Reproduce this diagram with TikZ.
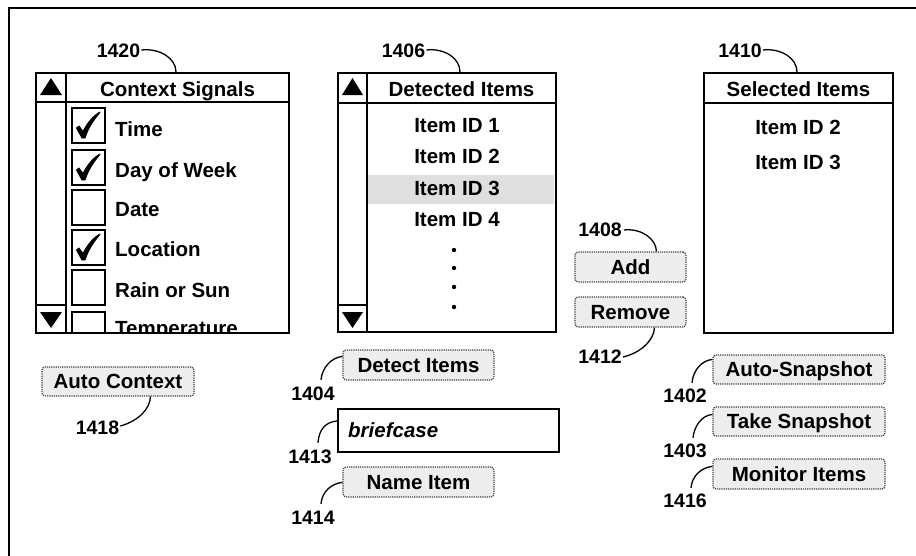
\documentclass[tikz,border=0pt]{standalone}
\usepackage{fontspec}
\setmainfont{Liberation Sans}
\usetikzlibrary{calc}
\tikzset{
  txt/.style={font=\fontsize{20.5}{24}\selectfont\bfseries, inner sep=0pt, text height=14.7pt, text depth=0pt},
  lbl/.style={font=\fontsize{19.5}{22}\selectfont\bfseries, inner sep=0pt, text height=14pt, text depth=0pt},
  listbox/.style={draw, line width=2pt, inner sep=0pt},
  boxline/.style={line width=2pt},
  btn/.style={draw=black!75, densely dotted, line width=1.2pt, rounded corners=3pt, fill=gray!14, inner sep=0pt,
    font=\fontsize{20.5}{24}\selectfont\bfseries, text height=14.7pt, text depth=0pt},
  chkbox/.style={draw, line width=1.8pt, minimum width=33pt, minimum height=35pt, inner sep=0pt},
  chkmark/.pic={
    \filldraw[black, line width=0.9pt, line join=round] (-12,2.5) -- (-9.5,0.5) -- (-5.5,6)
      .. controls (-1,-3) and (5,-10) .. (11.5,-13.5)
      .. controls (10,-10.5) and (1,-2) .. (-3.5,12.5)
      -- (-6.5,12.5) -- cycle;
  },
  lead/.style={line width=1.3pt},
  tri/.style={fill=black},
  hilite/.style={fill=gray!25, draw=none}
}
\begin{document}
\begin{tikzpicture}[x=1pt,y=-1pt]
\clip (0,0) rectangle (916,555);
\fill[white] (0,0) rectangle (916,555);
% outer frame (only top and left edges visible)
\draw[line width=2.6pt] (940,8) -- (9,8) -- (9,575);

% ---------- Context Signals list ----------
\begin{scope}
  \clip (67,103) rectangle (288,332);
  \node[chkbox] (cb1) at (88.5,125.5) {};
  \node[chkbox] (cb2) at (88.5,167.5) {};
  \node[chkbox] (cb3) at (88.5,207.5) {};
  \node[chkbox] (cb4) at (88.5,247.5) {};
  \node[chkbox] (cb5) at (88.5,287.5) {};
  \node[chkbox] (cb6) at (88.5,329.5) {};
  \pic at (cb1) {chkmark};
  \pic at (cb2) {chkmark};
  \pic at (cb4) {chkmark};
  \node[txt, anchor=south west] (s1) at (115,137) {Time};
  \node[txt, anchor=south west] (s2) at (115,177.5) {Day of Week};
  \node[txt, anchor=south west] (s3) at (115,217) {Date};
  \node[txt, anchor=south west] (s4) at (115,257) {Location};
  \node[txt, anchor=south west] (s5) at (115,297.5) {Rain or Sun};
  \node[txt, anchor=south west] (s6) at (115,336) {Temperature};
\end{scope}
\node[listbox, minimum width=253pt, minimum height=260pt] (cs) at (162.5,203) {};
\draw[boxline] (36,102) -- (289,102);
\draw[boxline] (66,73) -- (66,333);
\draw[boxline] (36,305) -- (66,305);
\fill[tri] (51,78) -- (62,95) -- (40,95) -- cycle;
\fill[tri] (40,312) -- (62,312) -- (51,328) -- cycle;
\node[txt] (csh) at (177.5,89.5) {Context Signals};

% ---------- Detected Items list ----------
\fill[hilite] (368,175) rectangle (554,204);
\node[listbox, minimum width=218pt, minimum height=259pt] (di) at (447,202.5) {};
\draw[boxline] (338,103) -- (556,103);
\draw[boxline] (367,73) -- (367,332);
\draw[boxline] (338,305) -- (367,305);
\fill[tri] (352.5,78) -- (363,95) -- (342,95) -- cycle;
\fill[tri] (342,312) -- (363,312) -- (352.5,328) -- cycle;
\node[txt] (dih) at (461.5,89.5) {Detected Items};
\node[txt] (d1) at (457,125.5) {Item ID 1};
\node[txt] (d2) at (457,156.5) {Item ID 2};
\node[txt] (d3) at (457,188.5) {Item ID 3};
\node[txt] (d4) at (457,219.5) {Item ID 4};
\foreach \yy/\nm in {250/p1,268/p2,287/p3,307/p4}{
  \fill (454,\yy) circle (2.2pt) coordinate (\nm);
}

% ---------- Selected Items list ----------
\node[listbox, minimum width=189pt, minimum height=260pt] (si) at (798.5,203) {};
\draw[boxline] (704,103) -- (893,103);
\node[txt] (sih) at (798.5,89.5) {Selected Items};
\node[txt] (e2) at (798,127.5) {Item ID 2};
\node[txt] (e3) at (798,162.5) {Item ID 3};

% ---------- Buttons ----------
\node[btn, minimum width=111pt, minimum height=30pt] (add) at (630.5,267) {Add};
\node[btn, minimum width=111pt, minimum height=30pt] (rem) at (630.5,312) {Remove};
\node[btn, minimum width=152pt, minimum height=29pt] (ac) at (118,381.5) {Auto Context};
\node[btn, minimum width=151pt, minimum height=30pt] (det) at (418.5,365) {Detect Items};
\node[btn, minimum width=151pt, minimum height=30pt] (nam) at (418.5,482) {Name Item};
\node[btn, minimum width=172pt, minimum height=29pt] (asnap) at (799,369.5) {Auto-Snapshot};
\node[btn, minimum width=172pt, minimum height=29pt] (tsnap) at (799,421.5) {Take Snapshot};
\node[btn, minimum width=172pt, minimum height=30pt] (mon) at (799,474) {Monitor Items};
\node[draw, line width=2pt, minimum width=221pt, minimum height=43pt, inner sep=0pt] (fld) at (448.5,430.5) {};
\node[txt, anchor=west, font=\fontsize{20.5}{24}\selectfont\bfseries\itshape] (fldt) at (348,430.5) {briefcase};

% ---------- Reference labels ----------
\node[lbl] (l1420) at (118.5,50) {1420};
\node[lbl] (l1406) at (403.5,50) {1406};
\node[lbl] (l1410) at (740,50) {1410};
\node[lbl] (l1408) at (600,229) {1408};
\node[lbl] (l1412) at (600,356) {1412};
\node[lbl] (l1418) at (97.5,427) {1418};
\node[lbl] (l1404) at (313,393) {1404};
\node[lbl] (l1413) at (310,456) {1413};
\node[lbl] (l1414) at (313,517) {1414};
\node[lbl] (l1402) at (685,395) {1402};
\node[lbl] (l1403) at (685,450) {1403};
\node[lbl] (l1416) at (685,500) {1416};

% ---------- Leaders ----------
\draw[lead] ($(l1420.east)+(1,0)$) .. controls +(18,-2) and +(0,-14) .. ($(cs.north west)+(141,0)$);
\draw[lead] ($(l1406.east)+(1,0)$) .. controls +(18,-2) and +(0,-14) .. ($(di.north west)+(123,0)$);
\draw[lead] ($(l1410.east)+(1,0)$) .. controls +(18,-2) and +(0,-14) .. ($(si.north west)+(94,0)$);
\draw[lead] ($(l1408.east)+(2,1)$) .. controls +(18,-2) and +(0,-12) .. ($(add.north west)+(82,0)$);
\draw[lead] ($(l1412.east)+(1,1)$) .. controls +(18,-4) and +(0,12) .. ($(rem.south west)+(80,0)$);
\draw[lead] ($(l1418.east)+(1,-1)$) .. controls +(18,-5) and +(0,12) .. ($(ac.south west)+(109,0)$);
\draw[lead] ($(l1404.north)+(8,-6)$) .. controls +(1,-12) and +(-11,1) .. ($(det.north west)+(0,7)$);
\draw[lead] ($(l1413.north)+(8,-6)$) .. controls +(1,-14) and +(-11,1) .. ($(fld.north west)+(0,13)$);
\draw[lead] ($(l1414.north)+(8,-6)$) .. controls +(1,-12) and +(-11,1) .. ($(nam.north west)+(0,16)$);
\draw[lead] ($(l1402.north)+(7,-5)$) .. controls +(1,-12) and +(-11,1) .. ($(asnap.north west)+(0,5)$);
\draw[lead] ($(l1403.north)+(8,-5)$) .. controls +(1,-11) and +(-11,1) .. ($(tsnap.north west)+(0,8)$);
\draw[lead] ($(l1416.north)+(6,-5)$) .. controls +(1,-12) and +(-11,1) .. ($(mon.north west)+(0,8)$);
\end{tikzpicture}
\end{document}
